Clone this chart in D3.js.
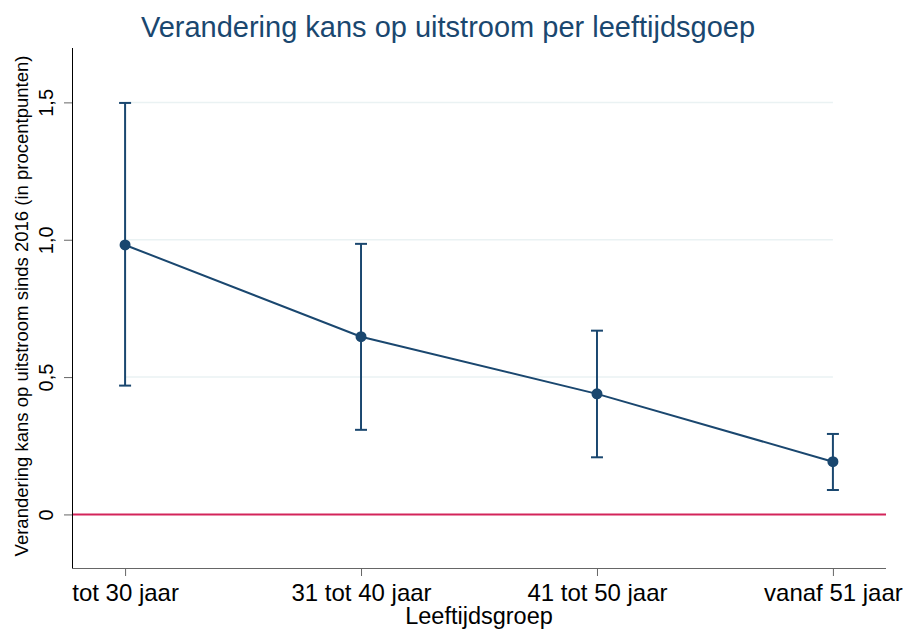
<!DOCTYPE html>
<html>
<head>
<meta charset="utf-8">
<script src="https://cdn.jsdelivr.net/npm/d3@7"></script>
<style>
  body { margin: 0; background: #fff; }
  svg { display: block; font-family: Arial, "Liberation Sans", sans-serif; }
</style>
</head>
<body>
<svg id="svg1" width="903" height="629"></svg>
<script>
// data
var groups = ['tot 30 jaar', '31 tot 40 jaar', '41 tot 50 jaar', 'vanaf 51 jaar'];
var estimates = [0.981, 0.647, 0.439, 0.192];
var lower = [0.469, 0.308, 0.208, 0.089];
var upper = [1.498, 0.985, 0.669, 0.293];
var yTicks = [0, 0.5, 1.0, 1.5];
var yTickLabels = ['0', '0,5', '1,0', '1,5'];

var navy = '#1a476f';
var svg = d3.select('#svg1');

var plotLeft = 72, plotRight = 886, plotTop = 48, plotBottom = 568;

var xScale = d3.scalePoint()
    .domain(groups)
    .range([plotLeft, plotRight])
    .padding(0.225);

var yScale = d3.scaleLinear()
    .domain([-0.195, 1.698])
    .range([plotBottom, plotTop]);

var data = groups.map(function(g, i) {
    return {group: g, est: estimates[i], lo: lower[i], hi: upper[i]};
});

// title
svg.append('text')
    .attr('x', 448)
    .attr('y', 37)
    .attr('text-anchor', 'middle')
    .attr('fill', navy)
    .style('font-size', '29px')
    .text('Verandering kans op uitstroom per leeftijdsgoep');

// gridlines
svg.append('g').selectAll('line')
    .data(yTicks.filter(function(d) { return d > 0; }))
    .enter().append('line')
    .attr('x1', xScale(groups[0]))
    .attr('x2', xScale(groups[groups.length - 1]))
    .attr('y1', function(d) { return yScale(d); })
    .attr('y2', function(d) { return yScale(d); })
    .attr('stroke', '#eaf2f3')
    .attr('stroke-width', 1.5);

// zero reference line
svg.append('line')
    .attr('x1', plotLeft)
    .attr('x2', plotRight)
    .attr('y1', yScale(0))
    .attr('y2', yScale(0))
    .attr('stroke', '#d3245a')
    .attr('stroke-width', 2);

// y axis
var yAxis = d3.axisLeft(yScale)
    .tickValues(yTicks)
    .tickSize(8)
    .tickPadding(0)
    .tickFormat(function(d, i) { return yTickLabels[i]; });

var gy = svg.append('g')
    .attr('transform', 'translate(' + plotLeft + ',0)')
    .call(yAxis);
gy.select('.domain').attr('stroke', '#000').attr('d', 'M0.5,' + plotTop + 'V' + plotBottom);
gy.selectAll('.tick line').attr('stroke', '#666');
gy.selectAll('.tick text')
    .attr('x', null).attr('dy', null)
    .attr('transform', 'translate(-19,0) rotate(-90)')
    .attr('text-anchor', 'middle')
    .attr('fill', '#000')
    .style('font-size', '20px');

// x axis
var xAxis = d3.axisBottom(xScale)
    .tickSize(8)
    .tickPadding(8);

var gx = svg.append('g')
    .attr('transform', 'translate(0,' + plotBottom + ')')
    .call(xAxis);
gx.select('.domain').attr('stroke', '#666').attr('d', 'M' + plotLeft + ',0.5H' + plotRight);
gx.selectAll('.tick line').attr('stroke', '#666');
gx.selectAll('.tick text')
    .attr('fill', '#000')
    .style('font-size', '24px');

// axis titles
svg.append('text')
    .attr('transform', 'translate(28,306) rotate(-90)')
    .attr('text-anchor', 'middle')
    .attr('fill', '#000')
    .style('font-size', '18.5px')
    .text('Verandering kans op uitstroom sinds 2016 (in procentpunten)');

svg.append('text')
    .attr('x', (plotLeft + plotRight) / 2)
    .attr('y', 624)
    .attr('text-anchor', 'middle')
    .attr('fill', '#000')
    .style('font-size', '23.5px')
    .text('Leeftijdsgroep');

// error bars
var bars = svg.append('g').selectAll('g')
    .data(data)
    .enter().append('g');

bars.append('line')
    .attr('x1', function(d) { return xScale(d.group); })
    .attr('x2', function(d) { return xScale(d.group); })
    .attr('y1', function(d) { return yScale(d.lo); })
    .attr('y2', function(d) { return yScale(d.hi); })
    .attr('stroke', navy)
    .attr('stroke-width', 2);

bars.append('line')
    .attr('x1', function(d) { return xScale(d.group) - 6; })
    .attr('x2', function(d) { return xScale(d.group) + 6; })
    .attr('y1', function(d) { return yScale(d.hi); })
    .attr('y2', function(d) { return yScale(d.hi); })
    .attr('stroke', navy)
    .attr('stroke-width', 2);

bars.append('line')
    .attr('x1', function(d) { return xScale(d.group) - 6; })
    .attr('x2', function(d) { return xScale(d.group) + 6; })
    .attr('y1', function(d) { return yScale(d.lo); })
    .attr('y2', function(d) { return yScale(d.lo); })
    .attr('stroke', navy)
    .attr('stroke-width', 2);

// connecting line
var line = d3.line()
    .x(function(d) { return xScale(d.group); })
    .y(function(d) { return yScale(d.est); });

svg.append('path')
    .datum(data)
    .attr('d', line)
    .attr('fill', 'none')
    .attr('stroke', navy)
    .attr('stroke-width', 2);

// points
svg.append('g').selectAll('circle')
    .data(data)
    .enter().append('circle')
    .attr('cx', function(d) { return xScale(d.group); })
    .attr('cy', function(d) { return yScale(d.est); })
    .attr('r', 5.5)
    .attr('fill', navy);
</script>
</body>
</html>
